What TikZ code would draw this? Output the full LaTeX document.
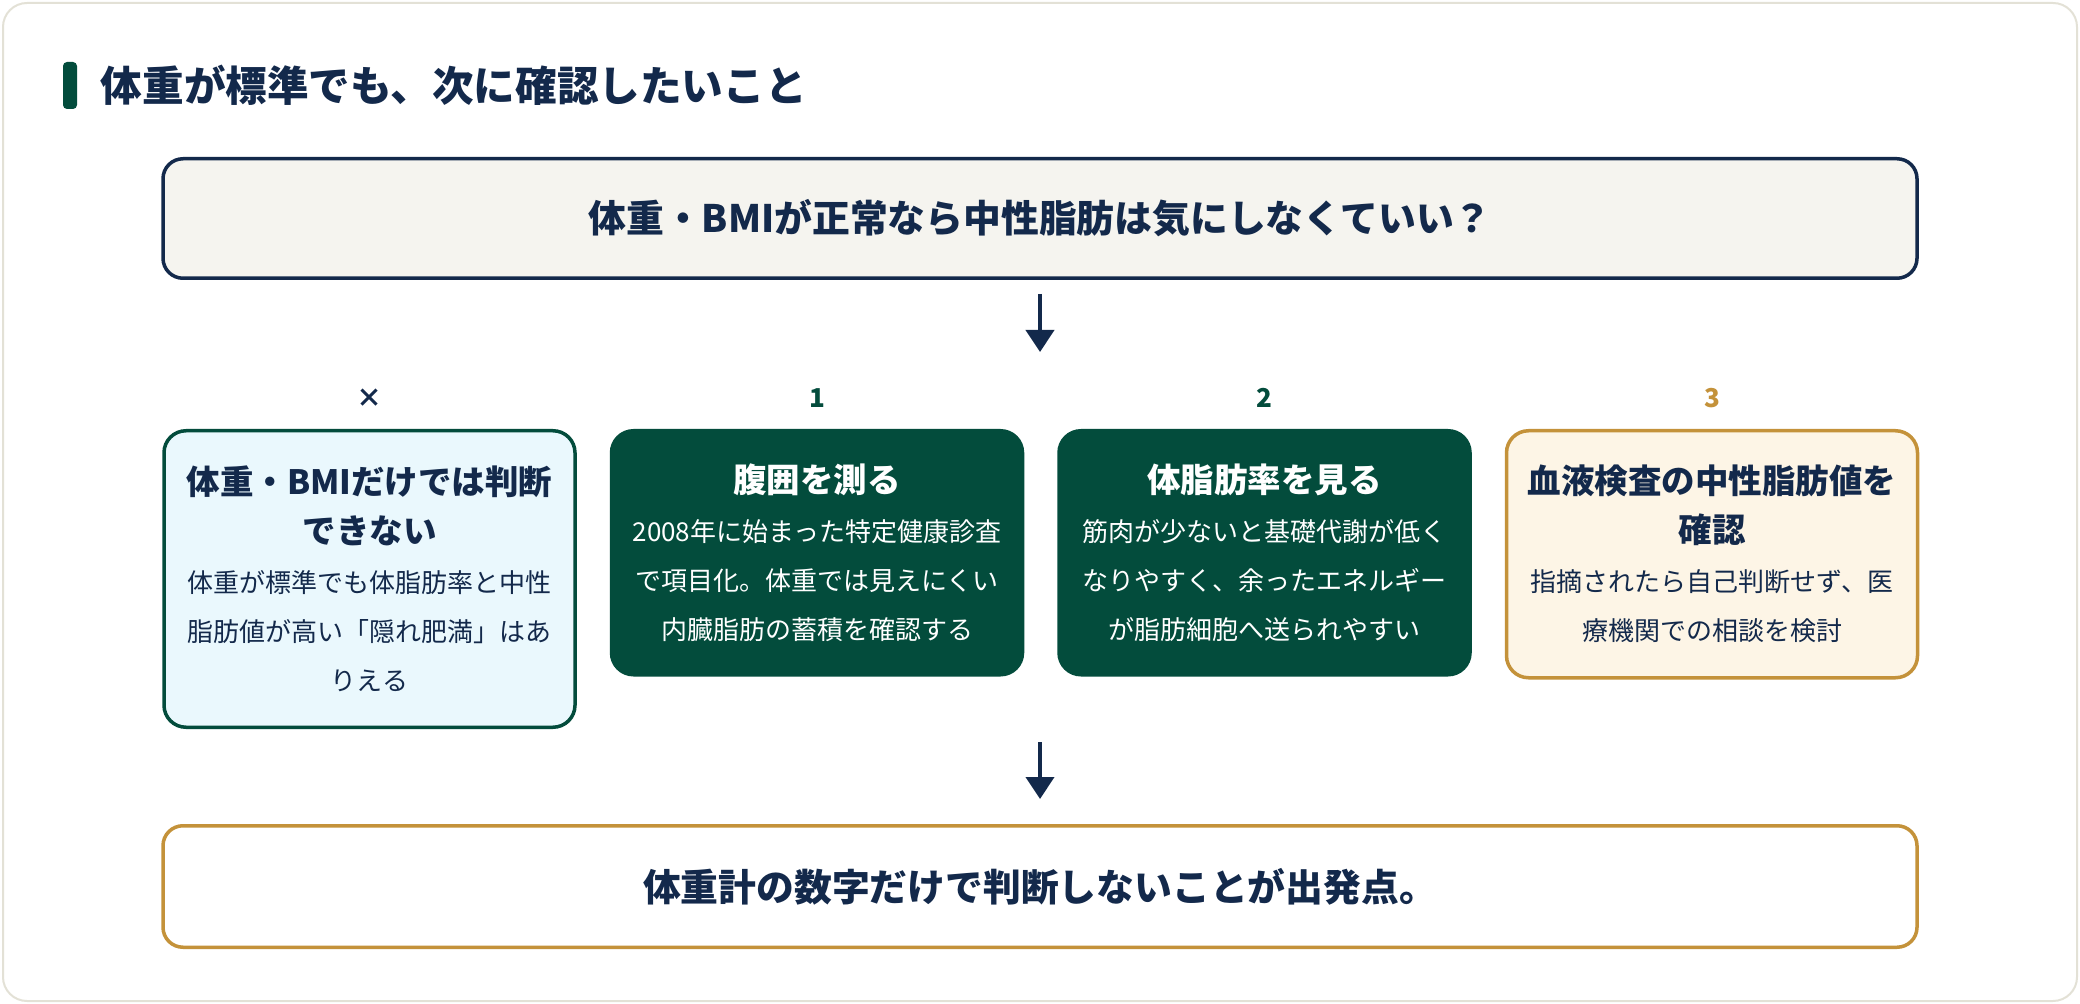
\documentclass[tikz,border=0pt]{standalone}
\usepackage{fontspec}
\setmainfont{Noto Sans CJK JP}
\usetikzlibrary{arrows.meta, positioning, calc}
\definecolor{navy}{HTML}{13294B}
\definecolor{pine}{HTML}{034C3C}
\definecolor{gold}{HTML}{C4923A}
\definecolor{paper}{HTML}{F5F4EF}
\definecolor{ice}{HTML}{EAF8FD}
\definecolor{cream}{HTML}{FDF5E6}
\definecolor{framegray}{HTML}{E3E1D6}
\tikzstyle{fQuestion} = [rectangle, rounded corners=10pt, minimum width=877pt, minimum height=59.75pt, text centered, draw=navy, line width=1.75pt, fill=paper, text=navy, font=\bfseries\fontsize{18.9pt}{22pt}\selectfont]
\tikzstyle{fCard} = [rectangle, rounded corners=11pt, minimum width=205.5pt, minimum height=122pt, text width=192pt, text centered, line width=1.75pt, font=\fontsize{13pt}{24.5pt}\selectfont]
\tikzstyle{fHidden} = [fCard, draw=pine, fill=ice, text=navy, minimum height=148.25pt]
\tikzstyle{fStep} = [fCard, draw=pine, fill=pine, text=white]
\tikzstyle{fCheck} = [fCard, draw=gold, fill=cream, text=navy, minimum height=123.5pt]
\tikzstyle{fConclusion} = [fQuestion, draw=gold, fill=white, minimum height=60.75pt]
\tikzstyle{fLabel} = [inner sep=0pt, text depth=0pt, font=\bfseries\fontsize{13pt}{15pt}\selectfont]
\tikzstyle{fArrow} = [line width=2pt, draw=navy, -{Triangle[width=14pt, length=11pt]}]
\newcommand{\cardtitle}[1]{{\bfseries\fontsize{16.75pt}{24.5pt}\selectfont #1}}

\begin{document}
\begin{tikzpicture}
    \useasboundingbox (0,0) rectangle (1040pt,-502pt);
    \draw [framegray, line width=1pt, fill=white, rounded corners=12pt] (1.5pt,-1.5pt) rectangle (1038.5pt,-500.5pt);

    \node (titlebar) [fill=pine, rounded corners=2pt, minimum width=7pt, minimum height=23.5pt, inner sep=0pt] at (35pt,-42.75pt) {};
    \node (title) [right=11.5pt of titlebar, inner sep=0pt, text=navy, font=\bfseries\fontsize{20.8pt}{24pt}\selectfont] {体重が標準でも、次に確認したいこと};

    \node (question) [fQuestion] at (520pt,-109.25pt) {体重・BMIが正常なら中性脂肪は気にしなくていい？};
    \coordinate [below=36pt of question.south] (split);

    \node (hidden) [fHidden, below=74.5pt of question.south west, anchor=north west, xshift=0.5pt] {\cardtitle{体重・BMIだけでは判断\\できない}\\体重が標準でも体脂肪率と中性\\脂肪値が高い「隠れ肥満」はあ\\りえる};
    \node (waist) [fStep, right=16.5pt of hidden.north east, anchor=north west] {\cardtitle{腹囲を測る}\\2008年に始まった特定健康診査\\で項目化。体重では見えにくい\\内臓脂肪の蓄積を確認する};
    \node (fatrate) [fStep, right=16.5pt of waist.north east, anchor=north west] {\cardtitle{体脂肪率を見る}\\筋肉が少ないと基礎代謝が低く\\なりやすく、余ったエネルギー\\が脂肪細胞へ送られやすい};
    \node (blood) [fCheck, right=16.5pt of fatrate.north east, anchor=north west] {\cardtitle{血液検査の中性脂肪値を\\確認}\\指摘されたら自己判断せず、医\\療機関での相談を検討};

    \node (markx) [fLabel, text=navy, above=10.7pt of hidden] {×};
    \node (mark1) [fLabel, text=pine, above=10.7pt of waist] {1};
    \node (mark2) [fLabel, text=pine, above=10.7pt of fatrate] {2};
    \node (mark3) [fLabel, text=gold, above=10.7pt of blood] {3};

    \node (conclusion) [fConclusion, below=47.5pt of hidden.south west, anchor=north west, xshift=-0.5pt] {体重計の数字だけで判断しないことが出発点。};
    \coordinate (merge) at ($(hidden.south -| question.south)+(0,-6.5pt)$);

    \draw [fArrow, shorten <=7pt] (question) -- (split);
    \draw [fArrow, shorten >=12.5pt] (merge) -- (conclusion);
\end{tikzpicture}
\end{document}
